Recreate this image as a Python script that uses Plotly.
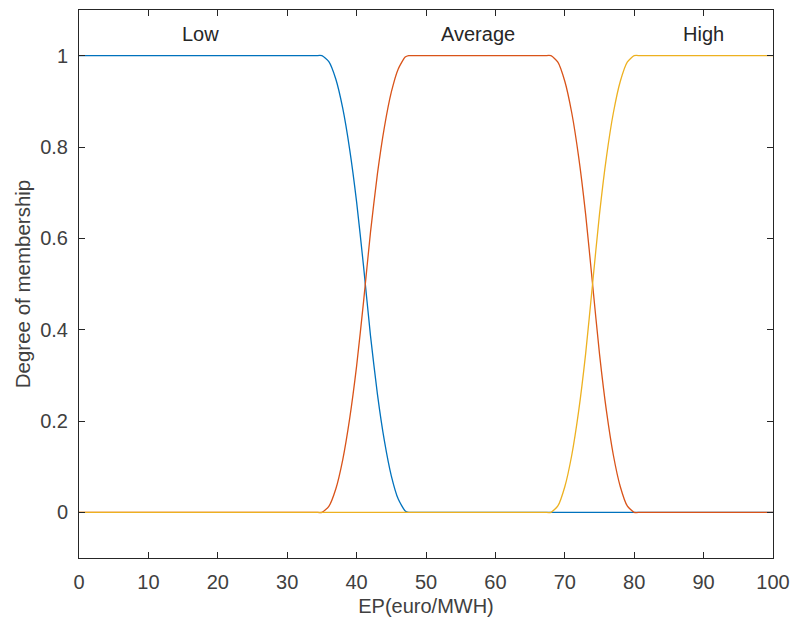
import plotly.graph_objects as go

# Values (EP in euro/MWH)
ep = [0, 34, 35, 36, 37, 38, 39, 40, 41, 42, 43, 44, 45, 46, 47, 47.5, 48.5,
      67, 68, 69, 70, 71, 72, 73, 74, 75, 76, 77, 78, 79, 80, 81, 100]
low = [1, 1, 1, 0.987, 0.949, 0.885, 0.795, 0.68, 0.539, 0.387, 0.259, 0.157, 0.08, 0.029, 0.003, 0, 0,
       0, 0, 0, 0, 0, 0, 0, 0, 0, 0, 0, 0, 0, 0, 0, 0]
average = [0, 0, 0, 0.013, 0.051, 0.115, 0.205, 0.32, 0.461, 0.613, 0.741, 0.843, 0.92, 0.971, 0.997, 1, 1,
           1, 1, 0.986, 0.944, 0.875, 0.778, 0.653, 0.5, 0.347, 0.222, 0.125, 0.056, 0.014, 0, 0, 0]
high = [0, 0, 0, 0, 0, 0, 0, 0, 0, 0, 0, 0, 0, 0, 0, 0, 0,
        0, 0, 0.014, 0.056, 0.125, 0.222, 0.347, 0.5, 0.653, 0.778, 0.875, 0.944, 0.986, 1, 1, 1]

labels = ["Low", "Average", "High"]
label_x = [17.5, 57.5, 90]
label_y = [1.047, 1.047, 1.047]

x_ticks = [0, 10, 20, 30, 40, 50, 60, 70, 80, 90, 100]
y_ticks = [0, 0.2, 0.4, 0.6, 0.8, 1]
y_tick_text = ["0", "0.2", "0.4", "0.6", "0.8", "1"]

colors = ["#0072BD", "#D95319", "#EDB120"]
font = "Liberation Sans, Arial, sans-serif"
txt = "#404040"

fig = go.Figure()
for name, ys, c in zip(labels, [low, average, high], colors):
    fig.add_trace(go.Scatter(x=ep, y=ys, mode="lines", name=name, cliponaxis=False,
                             line=dict(color=c, width=1.3, shape="spline", smoothing=0.6)))

for t, xx, yy in zip(labels, label_x, label_y):
    fig.add_annotation(x=xx, y=yy, text=t, showarrow=False,
                       font=dict(family=font, size=20, color="#262626"),
                       xanchor="center", yanchor="middle")

axis_common = dict(showgrid=False, zeroline=False, showline=True, linecolor="#262626",
                   linewidth=1, mirror="ticks", ticks="inside", ticklen=6,
                   tickcolor="#262626", tickwidth=1, automargin=False,
                   tickfont=dict(family=font, size=20, color=txt))

fig.update_xaxes(range=[0, 100], tickvals=x_ticks, ticklabelstandoff=6,
                 title=dict(text="EP(euro/MWH)", font=dict(family=font, size=20, color=txt),
                            standoff=6),
                 **axis_common)
fig.update_yaxes(range=[-0.1, 1.1], tickvals=y_ticks, ticktext=y_tick_text, ticklabelstandoff=6,
                 title=dict(text="Degree of membership", font=dict(family=font, size=20.5, color=txt),
                            standoff=4),
                 **axis_common)

fig.update_layout(width=792, height=624, showlegend=False,
                  plot_bgcolor="white", paper_bgcolor="white",
                  margin=dict(l=79, r=19, t=10, b=66))

fig.write_html("out.html")
